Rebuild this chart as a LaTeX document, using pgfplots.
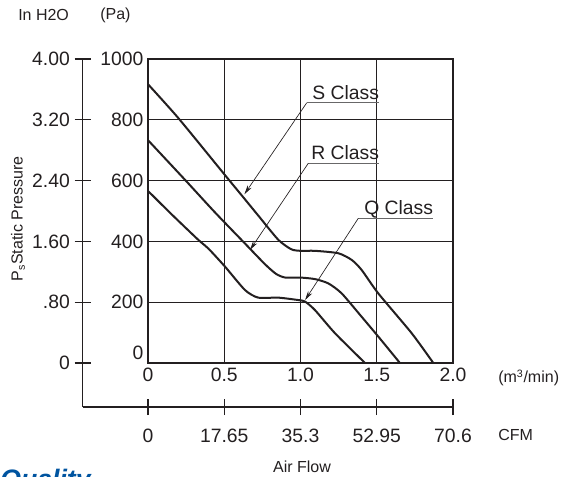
\documentclass[border=0pt]{standalone}
\usepackage{fontspec}
\setmainfont{Liberation Sans}
\usepackage{pgfplots}
\pgfplotsset{compat=1.18}
\usetikzlibrary{arrows.meta}
\definecolor{ink}{RGB}{35,31,32}
\definecolor{logoblue}{RGB}{0,84,160}

\begin{document}
\begin{tikzpicture}
% 1 px of the reference = 0.75pt; origin at its top-left corner
\useasboundingbox (0pt,0pt) rectangle (431.25pt,-357.75pt);

% outer scales: in H2O (left) and CFM (bottom)
\begin{axis}[
    at={(61.875pt,-305.25pt)}, anchor=south west,
    scale only axis, width=277.9pt, height=261pt,
    xmin=-15.16, xmax=70.6, ymin=-0.579, ymax=4,
    axis x line*=bottom, axis y line*=left,
    axis line style={-, line width=0.8pt, ink},
    xtick={0,17.65,35.3,52.95,70.6},
    xticklabels={0,17.65,35.3,52.95,70.6},
    ytick={0,0.8,1.6,2.4,3.2,4},
    yticklabels={0,.80,1.60,2.40,3.20,4.00},
    tick align=center, major tick length=12pt,
    tick style={line width=0.8pt, ink},
    tick label style={font=\fontsize{14.5}{16}\selectfont, text=ink},
    xticklabel style={yshift=-7pt},
    yticklabel style={xshift=0pt},
    /pgf/number format/assume math mode=true,
]
\end{axis}

% main chart
\begin{axis}[
    at={(111pt,-272.25pt)}, anchor=south west,
    scale only axis, width=228.75pt, height=228pt,
    xmin=0, xmax=2, ymin=0, ymax=1000,
    xtick={0,0.5,1,1.5,2},
    xticklabels={0,0.5,1.0,1.5,2.0},
    ytick={200,400,600,800,1000},
    yticklabels={200,400,600,800,1000},
    extra y ticks={0}, extra y tick labels={0},
    extra y tick style={yticklabel style={yshift=7.5pt}},
    grid=major, major grid style={line width=0.7pt, ink},
    axis line style={line width=1pt, ink},
    major tick length=0pt,
    tick label style={font=\fontsize{14.5}{16}\selectfont, text=ink},
    /pgf/number format/assume math mode=true,
]
% S Class
\addplot[ink, line width=1.5pt, smooth, tension=0.4] coordinates {
(0,917) (0.2,805) (0.505,618) (0.625,545) (0.723,485) (0.855,405)
(0.94,374) (1.0,369) (1.095,369) (1.248,361) (1.336,339) (1.401,306)
(1.51,229) (1.729,98) (1.871,0)
};
% R Class
\addplot[ink, line width=1.5pt, smooth, tension=0.4] coordinates {
(0,733) (0.24,604) (0.44,495) (0.636,393) (0.767,325) (0.84,293)
(0.9,281) (1.0,281) (1.095,276) (1.182,262) (1.27,229) (1.401,152)
(1.51,87) (1.652,0)
};
% Q Class
\addplot[ink, line width=1.5pt, smooth, tension=0.4] coordinates {
(0,566) (0.155,489) (0.33,405) (0.395,377) (0.505,317) (0.636,240)
(0.723,215) (0.855,215) (0.986,207) (1.03,202) (1.095,174) (1.226,98)
(1.423,0)
};

% callouts
\draw[gray!75!ink, line width=0.8pt] (axis cs:1.041,856) -- (axis cs:1.517,856);
\draw[ink, line width=0.5pt, -{Stealth[length=7pt,width=3.5pt]}] (axis cs:1.041,856) -- (axis cs:0.632,555);
\node[anchor=base east, inner sep=0pt, yshift=2.6pt, font=\fontsize{14.5}{16}\selectfont, text=ink] at (axis cs:1.517,856) {S Class};

\draw[gray!75!ink, line width=0.8pt] (axis cs:1.051,657) -- (axis cs:1.517,657);
\draw[ink, line width=0.5pt, -{Stealth[length=7pt,width=3.5pt]}] (axis cs:1.051,657) -- (axis cs:0.669,372);
\node[anchor=base east, inner sep=0pt, yshift=2.6pt, font=\fontsize{14.5}{16}\selectfont, text=ink] at (axis cs:1.517,657) {R Class};

\draw[gray!75!ink, line width=0.8pt] (axis cs:1.379,476) -- (axis cs:1.871,476);
\draw[ink, line width=0.5pt, -{Stealth[length=7pt,width=3.5pt]}] (axis cs:1.379,476) -- (axis cs:1.03,207);
\node[anchor=base east, inner sep=0pt, yshift=2.6pt, font=\fontsize{14.5}{16}\selectfont, text=ink] at (axis cs:1.871,476) {Q Class};
\end{axis}

% labels
\begin{scope}[x=0.75pt,y=-0.75pt]
\node[anchor=west, inner sep=0pt, font=\fontsize{12}{14}\selectfont, text=ink] at (18,15) {In H2O};
\node[anchor=west, inner sep=0pt, font=\fontsize{12}{14}\selectfont, text=ink] at (100,15) {(Pa)};
\node[rotate=90, inner sep=0pt, font=\fontsize{12}{14}\selectfont, text=ink] at (18,219) {P\textsubscript{s}Static Pressure};
\node[anchor=west, inner sep=0pt, font=\fontsize{12}{14}\selectfont, text=ink] at (498,378) {(m\textsuperscript{3}/min)};
\node[anchor=west, inner sep=0pt, font=\fontsize{12}{14}\selectfont, text=ink] at (498,435) {CFM};
\node[inner sep=0pt, font=\fontsize{12}{14}\selectfont, text=ink] at (302,467) {Air Flow};
\node[anchor=north west, inner sep=0pt, text=logoblue, font=\fontsize{20}{22}\selectfont\bfseries\itshape] at (0,469) {Quality};
\end{scope}
\end{tikzpicture}
\end{document}
